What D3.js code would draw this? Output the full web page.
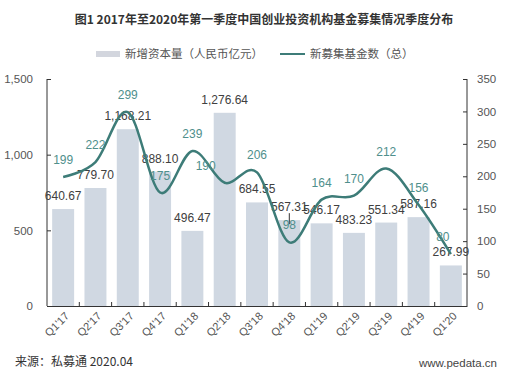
<!DOCTYPE html>
<html>
<head>
<meta charset="utf-8">
<script src="https://cdn.jsdelivr.net/npm/d3@7"></script>
<style>
  body { margin: 0; background: #fff; }
  text { font-family: "Liberation Sans", Arial, "Noto Sans CJK SC", sans-serif; }
  .cjk { font-family: "Noto Sans CJK SC", "Liberation Sans", sans-serif; }
</style>
</head>
<body>
<div id="chart"></div>
<script>
// quarters, amount (100M RMB) and number of funds raised
const quarters = ["Q1'17", "Q2'17", "Q3'17", "Q4'17", "Q1'18", "Q2'18", "Q3'18", "Q4'18", "Q1'19", "Q2'19", "Q3'19", "Q4'19", "Q1'20"];
const capital = [640.67, 779.70, 1168.21, 888.10, 496.47, 1276.64, 684.55, 567.31, 546.17, 483.23, 551.34, 587.16, 267.99];
const funds = [199, 222, 299, 175, 239, 190, 206, 98, 164, 170, 212, 156, 80];
const leftTicks = [0, 500, 1000, 1500];
const rightTicks = [0, 50, 100, 150, 200, 250, 300, 350];

const W = 508, H = 377;
const margin = {top: 79, right: 41, bottom: 71, left: 47};
const width = W - margin.left - margin.right;
const height = H - margin.top - margin.bottom;

const svg = d3.select("#chart").append("svg")
    .attr("width", W).attr("height", H);

const g = svg.append("g")
    .attr("transform", "translate(" + margin.left + "," + margin.top + ")");

const x = d3.scaleBand().domain(quarters).range([0, width]).paddingInner(0.32).paddingOuter(0.16);
const yL = d3.scaleLinear().domain([0, 1500]).range([height, 0]);
const yR = d3.scaleLinear().domain([0, 350]).range([height, 0]);

// title
svg.append("text").attr("class", "cjk")
    .attr("x", 264).attr("y", 24)
    .attr("text-anchor", "middle")
    .style("font-size", "12px").style("font-weight", "bold").style("fill", "#333")
    .text("图1 2017年至2020年第一季度中国创业投资机构基金募集情况季度分布");

// legend
svg.append("rect").attr("x", 96).attr("y", 51).attr("width", 24).attr("height", 6).style("fill", "#d3d6de");
svg.append("text").attr("class", "cjk").attr("x", 125).attr("y", 58)
    .style("font-size", "11.5px").style("fill", "#555").text("新增资本量（人民币亿元）");
svg.append("line").attr("x1", 280).attr("x2", 305).attr("y1", 54).attr("y2", 54)
    .style("stroke", "#3d7c78").style("stroke-width", 2);
svg.append("text").attr("class", "cjk").attr("x", 310).attr("y", 58)
    .style("font-size", "11.5px").style("fill", "#555").text("新募集基金数（总）");

// bars
g.selectAll(".bar").data(capital).enter().append("rect")
    .attr("class", "bar")
    .attr("x", (d, i) => x(quarters[i]))
    .attr("width", x.bandwidth())
    .attr("y", d => yL(d))
    .attr("height", d => height - yL(d))
    .style("fill", "#d0d8e2");

// axes
const axL = g.append("g").call(d3.axisLeft(yL).tickValues(leftTicks).tickSize(-4).tickPadding(14).tickFormat(d3.format(",")));
const axR = g.append("g").attr("transform", "translate(" + width + ",0)")
    .call(d3.axisRight(yR).tickValues(rightTicks).tickSize(-4).tickPadding(10));
const axB = g.append("g").attr("transform", "translate(0," + height + ")")
    .call(d3.axisBottom(x).tickSize(0).tickFormat(""));

// x ticks between categories, pointing up
g.selectAll(".xtick").data(d3.range(1, quarters.length)).enter().append("line")
    .attr("x1", i => x(quarters[i]) - x.step() * x.paddingInner() / 2)
    .attr("x2", i => x(quarters[i]) - x.step() * x.paddingInner() / 2)
    .attr("y1", height).attr("y2", height - 4)
    .style("stroke", "#333");

[axL, axR, axB].forEach(a => {
  a.select(".domain").style("stroke", "#333");
  a.selectAll(".tick line").style("stroke", "#333");
  a.selectAll(".tick text").style("font-size", "11.5px").style("fill", "#555")
    .style("font-family", "Liberation Sans, Arial, sans-serif");
});
axL.select(".domain").attr("d", "M0," + height + "V0");
axR.select(".domain").attr("d", "M0," + height + "V0");

// rotated category labels
g.selectAll(".xlab").data(quarters).enter().append("text")
    .attr("transform", d => "translate(" + (x(d) + x.bandwidth() / 2 + 4) + "," + (height + 8) + ") rotate(-45)")
    .attr("text-anchor", "end").attr("dy", "0.35em")
    .style("font-size", "11px").style("fill", "#555")
    .text(d => d);

// bar labels
const fmt = d3.format(",.2f");
g.selectAll(".blab").data(capital).enter().append("text")
    .attr("x", (d, i) => x(quarters[i]) + x.bandwidth() / 2)
    .attr("y", d => yL(d) - 9)
    .attr("text-anchor", "middle")
    .style("font-size", "12px").style("fill", "#404040")
    .text(d => fmt(d));

// leader line for Q4'18 label
g.append("line")
    .attr("x1", x("Q4'18") + x.bandwidth() / 2).attr("x2", x("Q4'18") + x.bandwidth() / 2)
    .attr("y1", yL(567.31) - 7).attr("y2", yL(567.31) + 4)
    .style("stroke", "#333");

// smoothed line
const line = d3.line()
    .x((d, i) => x(quarters[i]) + x.bandwidth() / 2)
    .y(d => yR(d))
    .curve(d3.curveCatmullRom.alpha(0));

g.append("path").datum(funds)
    .attr("d", line)
    .style("fill", "none").style("stroke", "#3d7c78").style("stroke-width", 2.5);

// line labels
const shift = {5: -19, 12: -8};
g.selectAll(".llab").data(funds).enter().append("text")
    .attr("x", (d, i) => x(quarters[i]) + x.bandwidth() / 2 + (shift[i] || 0))
    .attr("y", d => yR(d) - 13)
    .attr("text-anchor", "middle")
    .style("font-size", "12px").style("fill", "#4f8f8c")
    .text(d => d);

// source
svg.append("text").attr("class", "cjk").attr("x", 15).attr("y", 366)
    .style("font-size", "12px").style("fill", "#333").text("来源：私募通 2020.04");
svg.append("text").attr("x", 497).attr("y", 367).attr("text-anchor", "end")
    .style("font-size", "11.5px").style("fill", "#444").text("www.pedata.cn");
</script>
</body>
</html>
